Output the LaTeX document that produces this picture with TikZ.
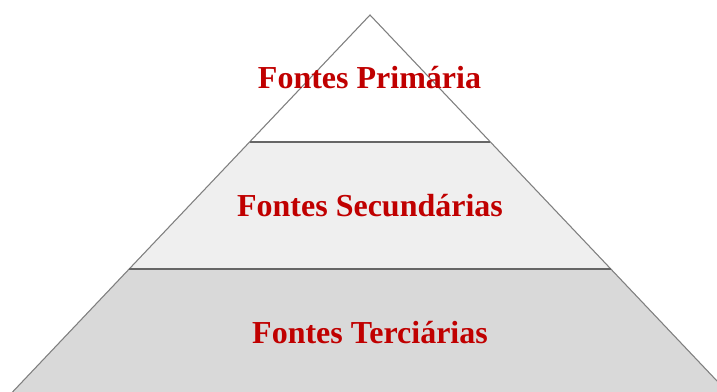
\documentclass[tikz,border=0pt]{standalone}
\usepackage{fontspec}
\setmainfont{Liberation Serif}
\definecolor{labelred}{HTML}{C00000}
\definecolor{midfill}{HTML}{EFEFEF}
\definecolor{lowfill}{HTML}{D9D9D9}
\definecolor{edgegray}{HTML}{7F7F7F}
\definecolor{sepgray}{HTML}{666666}
\tikzset{
  layerlabel/.style={anchor=base, text=labelred, font=\fontsize{24}{28}\selectfont\bfseries, inner sep=0pt},
  edge/.style={draw=edgegray, line width=0.8pt},
  sep/.style={draw=sepgray, line width=1.1pt}
}
\begin{document}
\begin{tikzpicture}[x=0.75pt,y=-0.75pt]
\useasboundingbox (0,0) rectangle (717,392);
\begin{scope}
\clip (0,0) rectangle (717,392);
\coordinate (apex) at (370,15);
\coordinate (tl) at (250,142);
\coordinate (tr) at (490,142);
\coordinate (ml) at (129,269);
\coordinate (mr) at (611,269);
\coordinate (bl) at (-14,420);
\coordinate (br) at (754,420);
\fill[white] (apex) -- (tr) -- (tl) -- cycle;
\fill[midfill] (tl) -- (tr) -- (mr) -- (ml) -- cycle;
\fill[lowfill] (ml) -- (mr) -- (br) -- (bl) -- cycle;
\draw[edge] (bl) -- (apex) -- (br);
\draw[sep] (tl) -- (tr);
\draw[sep] (ml) -- (mr);
\end{scope}
\node[layerlabel] (prim) at (369.5,89) {Fontes Primária};
\node[layerlabel] (sec) at (370,216) {Fontes Secundárias};
\node[layerlabel] (ter) at (370,343) {Fontes Terciárias};
\end{tikzpicture}
\end{document}
